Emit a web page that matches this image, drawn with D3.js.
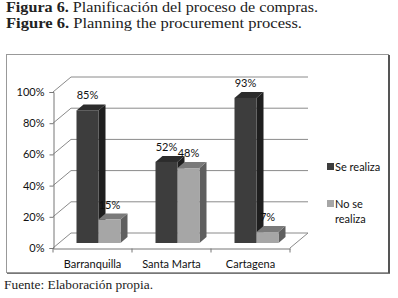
<!DOCTYPE html>
<html>
<head>
<meta charset="utf-8">
<script src="https://cdn.jsdelivr.net/npm/d3@7"></script>
<style>
	body { margin: 0; background: white; }
	svg { display: block; }
</style>
</head>
<body>
<script>
const w = 398
const h = 298

// data
const categories = ["Barranquilla", "Santa Marta", "Cartagena"]
const seriesNames = ["Se realiza", "No se realiza"]
const seRealiza = [0.85, 0.52, 0.93]
const noSeRealiza = [0.15, 0.48, 0.07]
const yTicks = [0, 0.2, 0.4, 0.6, 0.8, 1]

const frontColors = ["#3d3d3d", "#a6a6a6"]
const topColors = ["#2c2c2c", "#7a7a7a"]
const sideColors = ["#1f1f1f", "#5f5f5f"]

const depth = {dx: 18, dy: -15}   // wall depth
const barDepth = {dx: 7, dy: -6}
const barShift = {dx: 6, dy: -5}   // bars sit a bit behind the front floor edge

const svg = d3.select("body")
	.append("svg")
	.attr("width", w)
	.attr("height", h)

// title
let title = svg.append("g")
	.attr("font-family", "'Liberation Serif', serif")
	.attr("font-size", 14)
	.attr("fill", "#222")

let line1 = title.append("text")
	.attr("x", 6)
	.attr("y", 12)
	.attr("textLength", 312)
	.attr("lengthAdjust", "spacingAndGlyphs")
line1.append("tspan").attr("font-weight", "bold").text("Figura 6.")
line1.append("tspan").text(" Planificación del proceso de compras.")

let line2 = title.append("text")
	.attr("x", 6)
	.attr("y", 28)
	.attr("textLength", 296)
	.attr("lengthAdjust", "spacingAndGlyphs")
line2.append("tspan").attr("font-weight", "bold").text("Figure 6.")
line2.append("tspan").text(" Planning the procurement process.")

svg.append("text")
	.attr("x", 4)
	.attr("y", 289)
	.attr("font-family", "'Liberation Serif', serif")
	.attr("font-size", 13)
	.attr("textLength", 149)
	.attr("lengthAdjust", "spacingAndGlyphs")
	.attr("fill", "#222")
	.text("Fuente: Elaboración propia.")

// chart frame
svg.append("rect")
	.attr("x", 6.5)
	.attr("y", 54.5)
	.attr("width", 382)
	.attr("height", 218)
	.attr("fill", "white")
	.attr("stroke", "#999")
	.attr("stroke-width", 1)
svg.append("line")
	.attr("x1", 389).attr("x2", 389)
	.attr("y1", 55).attr("y2", 274)
	.attr("stroke", "#555")
	.attr("stroke-width", 2)
svg.append("line")
	.attr("x1", 7).attr("x2", 390)
	.attr("y1", 273.5).attr("y2", 273.5)
	.attr("stroke", "#777")
	.attr("stroke-width", 1)

// scales
let xScale = d3.scaleBand()
	.domain(categories)
	.range([53, 290])

let yScale = d3.scaleLinear()
	.domain([0, 1])
	.range([248, 92])

let innerScale = d3.scaleBand()
	.domain(seriesNames)
	.range([0, 44])

const chart = svg.append("g")
	.attr("font-family", "Lato, 'Open Sans', sans-serif")
	.attr("font-size", 11)
	.attr("fill", "#111")

// back wall gridlines and side wall diagonals
chart.selectAll(".grid")
	.data(yTicks)
	.enter()
	.append("polyline")
	.attr("class", "grid")
	.attr("points", d => {
		let y = yScale(d)
		return [[53, y], [53 + depth.dx, y + depth.dy], [290 + depth.dx, y + depth.dy]].join(" ")
	})
	.attr("fill", "none")
	.attr("stroke", "#8a8a8a")
	.attr("stroke-width", 1)

// floor right edge
chart.append("line")
	.attr("x1", 290).attr("y1", yScale(0))
	.attr("x2", 290 + depth.dx).attr("y2", yScale(0) + depth.dy)
	.attr("stroke", "#8a8a8a")

// y axis
let yAxis = d3.axisLeft(yScale)
	.tickValues(yTicks)
	.tickFormat(d3.format(".0%"))
	.tickSize(4)

chart.append("g")
	.attr("transform", "translate(53.5, 0)")
	.call(yAxis)
	.call(g => g.select(".domain").attr("stroke", "#777"))
	.call(g => g.selectAll(".tick line").attr("stroke", "#777"))
	.call(g => g.selectAll(".tick text")
		.attr("font-family", "Lato, 'Open Sans', sans-serif")
		.attr("font-size", 11)
		.attr("fill", "#111")
		.attr("x", -9))

// x axis
let xAxis = d3.axisBottom(xScale)
	.tickSize(0)
	.tickSizeOuter(0)

let xg = chart.append("g")
	.attr("transform", "translate(0, " + (yScale(0) + 0.5) + ")")
	.call(xAxis)
	.call(g => g.select(".domain").attr("stroke", "#777"))
	.call(g => g.selectAll(".tick text")
		.attr("font-family", "Lato, 'Open Sans', sans-serif")
		.attr("font-size", 11)
		.attr("fill", "#111")
		.attr("y", 12))

// x tick marks between categories
let bounds = categories.map(c => xScale(c)).concat([xScale.range()[1]])
xg.selectAll(".sep")
	.data(bounds)
	.enter()
	.append("line")
	.attr("class", "sep")
	.attr("x1", d => d).attr("x2", d => d)
	.attr("y1", 0).attr("y2", 4)
	.attr("stroke", "#777")

// bars
let rows = []
categories.forEach((c, i) => {
	rows.push({cat: c, s: 0, v: seRealiza[i]})
	rows.push({cat: c, s: 1, v: noSeRealiza[i]})
})

let barWidth = innerScale.bandwidth()
let barX = d => xScale(d.cat) + (xScale.bandwidth() - 44) / 2 + barShift.dx + innerScale(seriesNames[d.s])
let barBase = yScale(0) + barShift.dy
let barY = d => barBase - (yScale(0) - yScale(d.v))

let bars = chart.selectAll(".bar")
	.data(rows)
	.enter()
	.append("g")
	.attr("class", "bar")

// side face
bars.append("polygon")
	.attr("points", d => {
		let x = barX(d) + barWidth
		return [[x, barY(d)], [x + barDepth.dx, barY(d) + barDepth.dy],
			[x + barDepth.dx, barBase + barDepth.dy], [x, barBase]].join(" ")
	})
	.attr("fill", d => sideColors[d.s])

// top face
bars.append("polygon")
	.attr("points", d => {
		let x = barX(d), y = barY(d)
		return [[x, y], [x + barDepth.dx, y + barDepth.dy],
			[x + barWidth + barDepth.dx, y + barDepth.dy], [x + barWidth, y]].join(" ")
	})
	.attr("fill", d => topColors[d.s])

// front face
bars.append("rect")
	.attr("x", d => barX(d))
	.attr("y", d => barY(d))
	.attr("width", barWidth)
	.attr("height", d => barBase - barY(d))
	.attr("fill", d => frontColors[d.s])

// value labels
chart.selectAll(".lbl")
	.data(rows)
	.enter()
	.append("text")
	.attr("class", "lbl")
	.attr("x", d => barX(d) + barWidth / 2)
	.attr("y", d => barY(d) - 11)
	.attr("text-anchor", "middle")
	.text(d => Math.round(d.v * 100) + "%")

// legend
let legendItems = [
	{s: 0, y: 163, lines: ["Se realiza"]},
	{s: 1, y: 200, lines: ["No se", "realiza"]}
]
let legend = chart.selectAll(".leg")
	.data(legendItems)
	.enter()
	.append("g")
	.attr("class", "leg")

legend.append("rect")
	.attr("x", 327)
	.attr("y", d => d.y)
	.attr("width", 7)
	.attr("height", 7)
	.attr("fill", d => frontColors[d.s])

legend.append("text")
	.attr("x", 335)
	.attr("y", d => d.y + 8)
	.selectAll("tspan")
	.data(d => d.lines)
	.enter()
	.append("tspan")
	.attr("x", 335)
	.attr("dy", (d, i) => i == 0 ? 0 : 15)
	.text(d => d)
</script>
</body>
</html>
